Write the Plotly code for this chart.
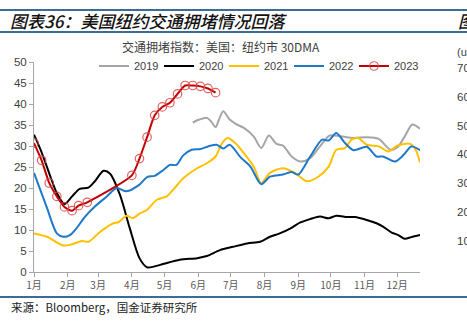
import plotly.graph_objects as go

# ---------------- data (day of year, index value) ----------------
month_ticks = [0, 31, 59, 90, 120, 151, 181, 212, 243, 273, 304, 334]
month_labels = ["1月", "2月", "3月", "4月", "5月", "6月", "7月", "8月", "9月", "10月", "11月", "12月"]
y_ticks = [0, 5, 10, 15, 20, 25, 30, 35, 40, 45, 50]

d19 = [146, 152, 159, 163, 167, 170, 174, 180, 186, 193, 202, 209, 216, 223, 229, 237, 245, 254, 263, 272, 282, 294, 306, 317, 328, 335, 341, 348, 355]
v19 = [35.6, 36.3, 36.7, 35.8, 34.5, 36.2, 38.3, 36.3, 35.2, 34.3, 32.3, 29.5, 32.5, 30.5, 30.1, 27.5, 26.3, 27.1, 29.9, 32.5, 32.3, 31.9, 32.1, 31.7, 29.1, 29.9, 32.3, 35.1, 34.1]

d20 = [0, 7, 14, 21, 28, 35, 42, 50, 56, 64, 70, 79, 88, 97, 104, 116, 134, 150, 159, 171, 183, 196, 208, 217, 226, 236, 245, 254, 263, 271, 278, 288, 295, 306, 315, 321, 329, 335, 341, 347, 355]
v20 = [32.7, 28.5, 23.5, 18.8, 16.2, 18.0, 19.8, 20.1, 21.6, 24.1, 23.4, 18.4, 10.5, 3.3, 1.1, 1.7, 2.9, 3.3, 3.8, 5.2, 6.0, 6.8, 7.2, 8.4, 9.2, 10.4, 11.8, 12.6, 13.2, 12.8, 13.4, 13.1, 13.1, 12.4, 11.6, 10.8, 9.4, 8.8, 7.9, 8.3, 8.8]

d21 = [0, 12, 20, 27, 35, 44, 50, 61, 73, 78, 85, 91, 97, 104, 113, 122, 128, 136, 140, 150, 159, 167, 173, 178, 185, 193, 202, 209, 217, 229, 240, 251, 262, 271, 278, 286, 292, 298, 306, 317, 326, 334, 346, 351, 355]
v21 = [9.2, 8.4, 7.2, 6.3, 6.6, 7.4, 7.2, 9.6, 11.6, 11.9, 13.4, 12.8, 13.9, 14.8, 17.2, 18.0, 19.6, 22.0, 22.9, 24.7, 25.9, 27.5, 30.7, 31.9, 30.7, 28.3, 25.1, 21.2, 23.6, 24.7, 23.6, 21.6, 22.8, 25.1, 29.1, 29.5, 31.5, 31.9, 30.3, 29.9, 28.7, 30.1, 30.5, 29.1, 26.1]

d22 = [0, 12, 21, 27, 33, 39, 47, 56, 67, 76, 85, 97, 104, 111, 119, 125, 131, 137, 145, 153, 160, 168, 174, 180, 190, 199, 209, 217, 229, 237, 243, 254, 265, 271, 278, 286, 294, 306, 315, 321, 332, 340, 347, 355]
v22 = [23.6, 15.2, 9.2, 8.4, 8.8, 10.4, 13.2, 15.6, 18.0, 20.0, 19.2, 20.8, 22.6, 22.9, 24.3, 25.5, 25.5, 27.7, 29.1, 29.3, 29.9, 30.3, 29.4, 30.3, 27.3, 25.1, 20.9, 22.7, 23.2, 23.8, 23.2, 27.5, 31.5, 31.3, 33.1, 30.7, 29.0, 29.8, 27.5, 27.5, 26.3, 27.9, 29.9, 29.0]

d23 = [0, 7, 14, 21, 28, 35, 41, 49, 90, 97, 104, 111, 118, 125, 132, 139, 146, 153, 160, 167]
v23 = [30.7, 26.6, 21.2, 18.0, 15.5, 14.6, 15.8, 16.6, 23.0, 27.0, 32.1, 37.3, 39.3, 40.3, 42.4, 44.4, 44.4, 44.2, 43.7, 42.7]

right_ticks = ["700", "600", "500", "400", "300", "200", "100"]

# ---------------- layout geometry (pixels) ----------------
W, H = 467, 321
L, R, T, B = 34, 420, 62, 272


def px(x):
    return (x - L) / (R - L)


def py(y):
    return (B - y) / (B - T)


CJK = "Noto Sans CJK SC"
ARIAL = "Liberation Sans, Arial"

fig = go.Figure()
series = [
    ("2019", d19, v19, "#A5A5A5"),
    ("2020", d20, v20, "#000000"),
    ("2021", d21, v21, "#FFC000"),
    ("2022", d22, v22, "#1F78C8"),
]
for name, d, v, c in series:
    fig.add_trace(go.Scatter(x=d, y=v, name=name, mode="lines",
                             line=dict(color=c, width=2, shape="spline", smoothing=0.8)))
fig.add_trace(go.Scatter(x=d23, y=v23, name="2023", mode="lines+markers",
                         line=dict(color="#C00000", width=2, shape="spline", smoothing=0.6),
                         marker=dict(symbol="circle-open", size=8.5, color="rgba(220,70,70,0.85)",
                                     line=dict(width=1.2))))

fig.update_layout(
    width=W, height=H,
    margin=dict(l=L, r=W - R, t=T, b=H - B, pad=0),
    paper_bgcolor="white", plot_bgcolor="white",
    showlegend=True,
    legend=dict(orientation="h", x=px(94), y=py(66), xanchor="left", yanchor="middle",
                font=dict(family=ARIAL, size=11, color="#404040"),
                itemwidth=30, entrywidth=20, bgcolor="rgba(0,0,0,0)", tracegroupgap=0),
    xaxis=dict(range=[0, 355], tickvals=month_ticks, ticktext=month_labels,
               showgrid=False, zeroline=False, showline=True, linecolor="#A6A6A6", linewidth=1,
               ticks="outside", ticklen=4, tickcolor="#A6A6A6",
               tickfont=dict(family=CJK, size=10, color="#595959")),
    yaxis=dict(range=[0, 50], tickvals=y_ticks, showgrid=False, zeroline=False,
               showline=True, linecolor="#A6A6A6", linewidth=1,
               ticks="outside", ticklen=4, tickcolor="#A6A6A6",
               tickfont=dict(family=ARIAL, size=11.5, color="#404040")),
)

line_color = "#3B6C96"
for yy, w in [(10, 2), (32, 2), (297, 2)]:
    fig.add_shape(type="line", xref="paper", yref="paper", x0=px(0), x1=px(W), y0=py(yy), y1=py(yy),
                  line=dict(color=line_color, width=w))

ann = []
ann.append(dict(text="图表36：美国纽约交通拥堵情况回落", x=px(8), y=py(20), xanchor="left", yanchor="middle",
                font=dict(family=CJK, size=17, color="#111111", style="italic", weight=500)))
ann.append(dict(text="交通拥堵指数：美国：纽约市 30DMA", x=px(221), y=py(46), xanchor="center", yanchor="middle",
                font=dict(family=CJK, size=12, color="#404040")))
ann.append(dict(text="来源：Bloomberg，国金证券研究所", x=px(9), y=py(307), xanchor="left", yanchor="middle",
                font=dict(family=CJK, size=11.5, color="#222222")))
ann.append(dict(text="图", x=px(456), y=py(20), xanchor="left", yanchor="middle",
                font=dict(family=CJK, size=17, color="#111111", style="italic", weight=500)))
ann.append(dict(text="(u", x=px(455), y=py(52), xanchor="left", yanchor="middle",
                font=dict(family=ARIAL, size=11, color="#404040")))
for i, t in enumerate(right_ticks):
    ann.append(dict(text=t, x=px(455), y=py(68 + i * 28.8), xanchor="left", yanchor="middle",
                    font=dict(family=ARIAL, size=11.5, color="#404040")))
for a in ann:
    a.update(xref="paper", yref="paper", showarrow=False)
fig.update_layout(annotations=ann)

fig.write_html("out.html")
